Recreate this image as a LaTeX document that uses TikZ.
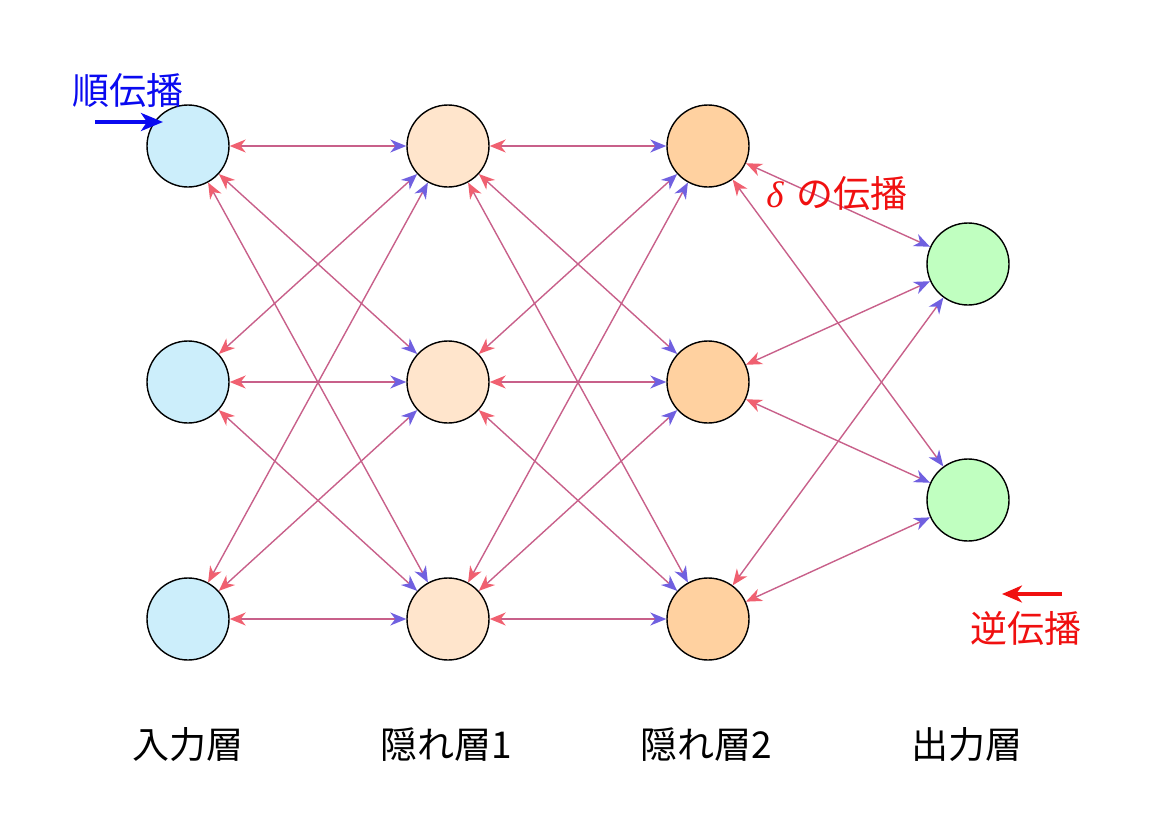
\documentclass[tikz,border=0pt]{standalone}
\usepackage{fontspec}
\newfontfamily\jp{Noto Sans CJK JP}
\newfontfamily\grk{Liberation Serif}
\usetikzlibrary{arrows.meta}
\definecolor{linec}{HTML}{C8608A}
\definecolor{tipred}{HTML}{F06070}
\definecolor{tipblue}{HTML}{7060E0}
\definecolor{cin}{HTML}{CCEEFB}
\definecolor{chone}{HTML}{FFE5CC}
\definecolor{chtwo}{HTML}{FFD1A0}
\definecolor{cout}{HTML}{C0FFC0}
\definecolor{fwd}{HTML}{0A0AF0}
\definecolor{bwd}{HTML}{F01010}
\begin{document}
\begin{tikzpicture}[x=1pt,y=-1pt,
  neuron/.style={circle, draw=black, line width=1.4pt, minimum size=82pt, inner sep=0pt},
  conn/.style={draw=linec, line width=1.4pt,
    {Stealth[length=16pt,width=13pt,inset=5pt,color=tipred]}-{Stealth[length=16pt,width=13pt,inset=5pt,color=tipblue]}},
  lbl/.style={font=\jp\fontsize{37pt}{40pt}\selectfont, text=black},
  note/.style={font=\jp\fontsize{37pt}{40pt}\selectfont}
]
\useasboundingbox (0,0) rectangle (1156,835);
% nodes
\node[neuron, fill=cin] (i1) at (188,146) {};
\node[neuron, fill=cin] (i2) at (188,382) {};
\node[neuron, fill=cin] (i3) at (188,619) {};
\node[neuron, fill=chone] (a1) at (448,146) {};
\node[neuron, fill=chone] (a2) at (448,382) {};
\node[neuron, fill=chone] (a3) at (448,619) {};
\node[neuron, fill=chtwo] (b1) at (708,146) {};
\node[neuron, fill=chtwo] (b2) at (708,382) {};
\node[neuron, fill=chtwo] (b3) at (708,619) {};
\node[neuron, fill=cout] (o1) at (968,264) {};
\node[neuron, fill=cout] (o2) at (968,500) {};
% connections
\foreach \s in {i1,i2,i3}{\foreach \t in {a1,a2,a3}{\draw[conn] (\s) -- (\t);}}
\foreach \s in {a1,a2,a3}{\foreach \t in {b1,b2,b3}{\draw[conn] (\s) -- (\t);}}
\foreach \s in {b1,b2,b3}{\foreach \t in {o1,o2}{\draw[conn] (\s) -- (\t);}}
% layer labels
\node[lbl] (l1) at (188,745) {入力層};
\node[lbl] (l2) at (446,745) {隠れ層1};
\node[lbl] (l3) at (706,745) {隠れ層2};
\node[lbl] (l4) at (967,745) {出力層};
% annotations
\node[note, text=fwd] (fw) at (128,90) {順伝播};
\coordinate (fws) at (95,122);
\coordinate (fwe) at (163,122);
\draw[fwd, line width=3.6pt, -{Stealth[length=22pt,width=18pt,inset=6pt]}] (fws) -- (fwe);
\node[note, text=bwd] (dl) at (837,193) {{\grk\itshape δ}\hspace{0.35em}の伝播};
\node[note, text=bwd] (bw) at (1026,628) {逆伝播};
\coordinate (bws) at (1062,594);
\coordinate (bwe) at (1002,594);
\draw[bwd, line width=3.2pt, -{Stealth[length=20pt,width=17pt,inset=6pt]}] (bws) -- (bwe);
\end{tikzpicture}
\end{document}
